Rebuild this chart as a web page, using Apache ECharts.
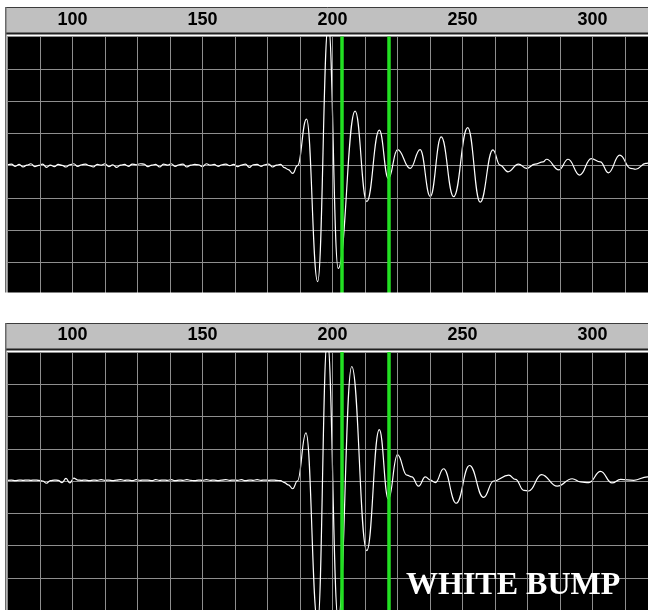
<!DOCTYPE html>
<html>
<head>
<meta charset="utf-8">
<script src="https://cdn.jsdelivr.net/npm/echarts@6/dist/echarts.min.js"></script>
<style>
html,body{margin:0;padding:0;background:#fff;}
#c{width:648px;height:610px;}
</style>
</head>
<body>
<div id="c"></div>
<script>
// ---- data ----
var xTickLabels = [100, 150, 200, 250, 300];
var cursorX = [203.6, 221.8];
var annotation = 'WHITE BUMP';

var topWaveX = [75,76.5,78,79.5,81,82.5,84,85.5,87,88.5,90,91.5,93,94.5,96,97.5,99,100.5,102,103.5,105,106.5,108,109.5,111,112.5,114,115.5,117,118.5,120,121.5,123,124.5,126,127.5,129,130.5,132,133.5,135,136.5,138,139.5,141,142.5,144,145.5,147,148.5,150,151.5,153,154.5,156,157.5,159,160.5,162,163.5,165,166.5,168,169.5,171,172.5,174,175.5,177,178.5,180,181.5,183,184.7,186.5,190,194.3,198.4,202.2,208.7,213.2,218,221.5,225,229.9,233.7,237.6,241.8,246.6,252,256.8,261.7,264.4,267.5,271.5,274.6,277.9,281,282.3,287.1,290.6,295.1,299.5,303,306.1,310.5,314.7,316.6,320.5,323,325];
var topWaveY = [0.03,0.05,-0.02,0.04,-0.04,0.02,0.06,-0.03,0.01,0.05,-0.05,0.02,-0.03,0.04,0.01,-0.04,0.03,0.06,-0.02,0.03,0.05,0.0,-0.04,0.04,0.02,0.06,-0.03,0.03,-0.05,0.02,0.04,-0.02,0.05,0.03,0.06,0.05,-0.03,0.02,0.04,-0.04,0.05,0.02,0.06,-0.02,0.03,0.05,-0.04,0.02,0.04,0.03,-0.03,0.06,0.02,0.04,-0.02,0.03,0.05,0.0,0.04,-0.03,0.02,0.05,-0.05,0.03,0.04,-0.02,0.03,0.05,-0.04,0.02,0.04,-0.06,-0.12,-0.24,0.0,1.44,-3.59,4.4,-3.18,1.69,-1.11,1.1,-0.4,0.5,-0.08,0.5,-0.95,0.89,-0.96,1.18,-1.13,0.49,0.02,-0.19,0.05,-0.08,0.05,0.12,0.2,-0.13,0.2,-0.29,0.22,0.12,-0.22,0.33,-0.08,-0.11,0.07,0.1,0.05];

var botWaveX = [75,76.5,78,79.5,81,82.5,84,85.5,87,88.5,90,91.5,93,94.5,96,97.5,99,100.5,102,103.5,105,106.5,108,109.5,111,112.5,114,115.5,117,118.5,120,121.5,123,124.5,126,127.5,129,130.5,132,133.5,135,136.5,138,139.5,141,142.5,144,145.5,147,148.5,150,151.5,153,154.5,156,157.5,159,160.5,162,163.5,165,166.5,168,169.5,171,172.5,174,175.5,177,178.5,180,181.5,183,184.7,186.5,189.8,194.3,198,202.2,207.4,213.2,218,221.5,225,228.6,230.5,233.1,235.7,237.6,239.6,242.7,247.6,252.7,258.1,262,267.8,270.4,273.6,275.5,280.4,286.4,292.2,295.4,298.6,303.1,307.5,310.8,315.9,321.1,325];
var botWaveY = [0.02,0.03,0.01,0.03,0.02,0.03,0.02,0.03,0.02,0.0,-0.07,0.01,0.03,0.02,-0.05,0.08,-0.06,0.09,0.03,0.02,0.03,0.01,0.03,0.02,0.04,0.02,0.03,0.01,0.03,0.04,0.02,0.03,0.01,0.04,0.02,0.03,0.03,0.01,0.04,0.02,0.03,0.02,0.04,0.01,0.03,0.02,0.04,0.02,0.01,0.03,0.02,0.04,0.02,0.03,0.01,0.03,0.04,0.02,0.03,0.02,0.04,0.01,0.03,0.02,0.04,0.02,0.03,0.02,0.03,0.02,0.01,-0.05,-0.12,-0.24,0.0,1.49,-4.4,4.4,-4.3,3.55,-2.16,1.59,-0.57,0.82,0.18,0.13,-0.16,0.13,0.03,-0.05,0.38,-0.69,0.48,-0.51,0.0,0.18,0.05,-0.29,-0.31,0.2,-0.16,0.07,-0.03,-0.05,0.3,-0.06,0.05,0.02,0.13,0.08];

function pairs(xs, ys){ var o=[]; for(var i=0;i<xs.length;i++){o.push([xs[i], ys[i]]);} return o; }

var chart = echarts.init(document.getElementById('c'), null, {renderer:'canvas'});

// plot spans from x=7.5 to the right edge of the window (reference is cropped there)
var X_MIN = 75, X_STEP = 12.5, PX_PER_UNIT = 2.6;
var gridLeft = 7.5, gridW = 648 - 7.5;
var X_MAX = X_MIN + gridW / PX_PER_UNIT;
var panels = [{top:36.5, h:258.4, hdr:7}, {top:352, h:259.2, hdr:323}];

function xAxisFor(i){
  return {
    type:'value', gridIndex:i, min:X_MIN, max:X_MAX, interval:X_STEP, position:'top',
    axisLine:{show:false}, axisTick:{show:false},
    splitLine:{show:true, lineStyle:{color:'#8e8e8e', width:1}},
    axisLabel:{
      show:true, margin:16.5, verticalAlign:'middle',
      color:'#000', fontFamily:'Liberation Sans', fontWeight:'bold', fontSize:18,
      showMinLabel:false, showMaxLabel:false,
      formatter:function(v){ return xTickLabels.indexOf(v) >= 0 ? String(v) : ''; }
    },
    z:10
  };
}
function yAxisFor(i){
  return {
    type:'value', gridIndex:i, min:-4, max:4, interval:1,
    axisLine:{show:false}, axisTick:{show:false}, axisLabel:{show:false},
    splitLine:{show:true, lineStyle:{color:'#8e8e8e', width:1}}
  };
}
function waveSeries(i, xs, ys){
  return {
    type:'line', xAxisIndex:i, yAxisIndex:i, data:pairs(xs, ys),
    showSymbol:false, smooth:0.45, smoothMonotone:'x', clip:true,
    lineStyle:{color:'#ffffff', width:1.2},
    markLine:{
      silent:true, symbol:['none','none'], label:{show:false},
      lineStyle:{color:'#22e022', width:3.5, type:'solid'},
      data: cursorX.map(function(v){ return {xAxis:v}; })
    },
    z:3
  };
}

var graphics = [];
panels.forEach(function(p){
  graphics.push({type:'rect', z:-10, shape:{x:5.5, y:p.hdr+0.5, width:700, height:26}, style:{fill:'#c0c0c0', stroke:'#3c3c3c', lineWidth:1}});
  graphics.push({type:'rect', z:-9, shape:{x:5.5, y:p.hdr+25.5, width:700, height:2}, style:{fill:'#202020'}});
  graphics.push({type:'rect', z:60, shape:{x:5, y:p.hdr, width:1.5, height:p.top + p.h - p.hdr}, style:{fill:'#6a6a6a'}});
});
// white gap between panels (clips top panel bottom edge)
graphics.push({type:'rect', z:60, shape:{x:0, y:292.5, width:648, height:30}, style:{fill:'#ffffff'}});
graphics.push({type:'text', z:70, left:406, top:570, style:{text:annotation, fill:'#ffffff', font:'bold 32px "Liberation Serif"'}});

chart.setOption({
  animation:false,
  backgroundColor:'#ffffff',
  grid: panels.map(function(p){ return {left:gridLeft, top:p.top, width:gridW, height:p.h, show:true, backgroundColor:'#000000', borderWidth:0, containLabel:false}; }),
  xAxis:[xAxisFor(0), xAxisFor(1)],
  yAxis:[yAxisFor(0), yAxisFor(1)],
  series:[waveSeries(0, topWaveX, topWaveY), waveSeries(1, botWaveX, botWaveY)],
  graphic: graphics
});
</script>
</body>
</html>
